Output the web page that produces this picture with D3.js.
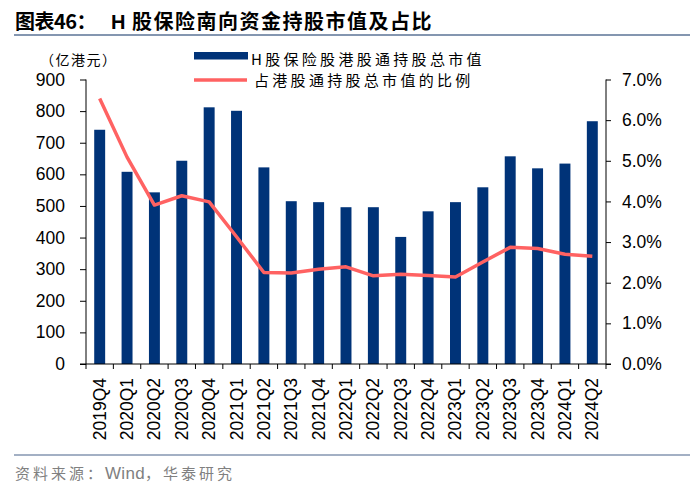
<!DOCTYPE html>
<html><head><meta charset="utf-8">
<script src="https://cdn.jsdelivr.net/npm/d3@7"></script>
<style>body{margin:0;background:#fff}svg{display:block}</style>
</head><body>
<svg id="c" width="700" height="492"></svg>
<script>
const categories = ["2019Q4","2020Q1","2020Q2","2020Q3","2020Q4","2021Q1","2021Q2","2021Q3","2021Q4","2022Q1","2022Q2","2022Q3","2022Q4","2023Q1","2023Q2","2023Q3","2023Q4","2024Q1","2024Q2"];
const marketValue = [741,608,543,643,812,801,622,515,512,496,496,402,483,512,559,657,619,634,768];
const shareRatio = [6.53,5.09,3.91,4.14,3.99,3.13,2.25,2.24,2.33,2.39,2.17,2.21,2.18,2.14,2.51,2.87,2.84,2.70,2.65];
const leftTicks = [0,100,200,300,400,500,600,700,800,900];
const rightTicks = [0,1,2,3,4,5,6,7];
const titleParts = ["图表46：", "H", "股保险南向资金持股市值及占比"];
const unitLabel = "（亿港元）";
const seriesNames = ["H股保险股港股通持股总市值","占港股通持股总市值的比例"];
const sourceParts = ["资料来源：", "Wind", "，华泰研究"];

const svg = d3.select("#c");
const font = "'Liberation Sans', Arial, sans-serif";
const cjk = "'Noto Sans CJK SC', sans-serif";
const L = 86, R = 606, T = 79.5, B = 364;
const x = d3.scaleBand().domain(categories).range([L, R]).paddingInner(0.6).paddingOuter(0.3);
const xb = d3.scaleBand().domain(categories).range([L, R]);
const yL = d3.scaleLinear().domain([0, 900]).range([B, T]);
const yR = d3.scaleLinear().domain([0, 7]).range([B, T]);

// title
const tt = svg.append("text").attr("y", 29).attr("font-family", cjk).attr("font-weight", "bold")
  .attr("font-size", 20).attr("fill", "#000");
tt.append("tspan").attr("x", 15).attr("letter-spacing", -0.5).text(titleParts[0]);
tt.append("tspan").attr("x", 111).attr("font-family", font).text(titleParts[1]);
tt.append("tspan").attr("x", 132).attr("letter-spacing", 1.5).text(titleParts[2]);
svg.append("line").attr("x1", 14).attr("x2", 690).attr("y1", 35).attr("y2", 35)
  .attr("stroke", "#8496b0").attr("stroke-width", 2);
svg.append("line").attr("x1", 14).attr("x2", 690).attr("y1", 455).attr("y2", 455)
  .attr("stroke", "#8496b0").attr("stroke-width", 1.5);
const st = svg.append("text").attr("x", 15).attr("y", 479).attr("font-family", cjk)
  .attr("font-size", 15).attr("fill", "#808080");
st.append("tspan").attr("letter-spacing", 3).text(sourceParts[0]);
st.append("tspan").attr("font-family", font).attr("font-size", 17).attr("letter-spacing", 0.3).text(sourceParts[1]);
st.append("tspan").attr("letter-spacing", 3).text(sourceParts[2]);

// bars
svg.append("g").selectAll("rect").data(categories).join("rect")
  .attr("x", d => x(d)).attr("width", x.bandwidth())
  .attr("y", (d, i) => yL(marketValue[i])).attr("height", (d, i) => B - yL(marketValue[i]))
  .attr("fill", "#003378");

// line
const line = d3.line().x((d, i) => xb(categories[i]) + xb.bandwidth() / 2).y(d => yR(d));
svg.append("path").datum(shareRatio).attr("d", line).attr("fill", "none")
  .attr("stroke", "#ff6262").attr("stroke-width", 3.5).attr("stroke-linejoin", "round");

// axes
const gl = svg.append("g").attr("transform", `translate(${L},0)`)
  .call(d3.axisLeft(yL).tickValues(leftTicks).tickSize(6).tickPadding(15));
const gr = svg.append("g").attr("transform", `translate(${R},0)`)
  .call(d3.axisRight(yR).tickValues(rightTicks).tickSize(5).tickPadding(11).tickFormat(d => d.toFixed(1) + "%"));
[gl, gr].forEach(g => {
  g.select(".domain").attr("stroke", "#000").attr("d", `M0,${T}V${B}`);
  g.selectAll("line").attr("stroke", "#000");
  g.selectAll("text").attr("font-family", font).attr("font-size", 17.5).attr("fill", "#000");
});
// x axis
const gx = svg.append("g").attr("transform", `translate(0,${B})`);
gx.append("line").attr("x1", L - 6).attr("x2", R + 5).attr("stroke", "#000");
gx.selectAll("line.t").data(d3.range(categories.length + 1)).join("line").attr("class", "t")
  .attr("x1", i => L + i * xb.step()).attr("x2", i => L + i * xb.step())
  .attr("y1", 0).attr("y2", 5).attr("stroke", "#000");
gx.selectAll("text").data(categories).join("text")
  .attr("transform", d => `translate(${xb(d) + xb.bandwidth() / 2 + 6},14) rotate(-90)`)
  .attr("text-anchor", "end").attr("font-family", font).attr("font-size", 17.5).attr("fill", "#000")
  .text(d => d);

// unit label
svg.append("text").attr("x", 40).attr("y", 65).attr("font-family", cjk).attr("font-size", 14)
  .attr("letter-spacing", 1.5).attr("fill", "#000").text(unitLabel);

// legend
svg.append("rect").attr("x", 194).attr("y", 52).attr("width", 54).attr("height", 7.5).attr("fill", "#003378");
svg.append("text").attr("x", 251).attr("y", 65).attr("font-family", cjk).attr("font-size", 15)
  .attr("letter-spacing", 3.3).attr("fill", "#000").text(seriesNames[0]);
svg.append("line").attr("x1", 194).attr("x2", 247).attr("y1", 80).attr("y2", 80)
  .attr("stroke", "#ff6262").attr("stroke-width", 3.5);
svg.append("text").attr("x", 254).attr("y", 86).attr("font-family", cjk).attr("font-size", 15)
  .attr("letter-spacing", 3.3).attr("fill", "#000").text(seriesNames[1]);
</script>
</body></html>
